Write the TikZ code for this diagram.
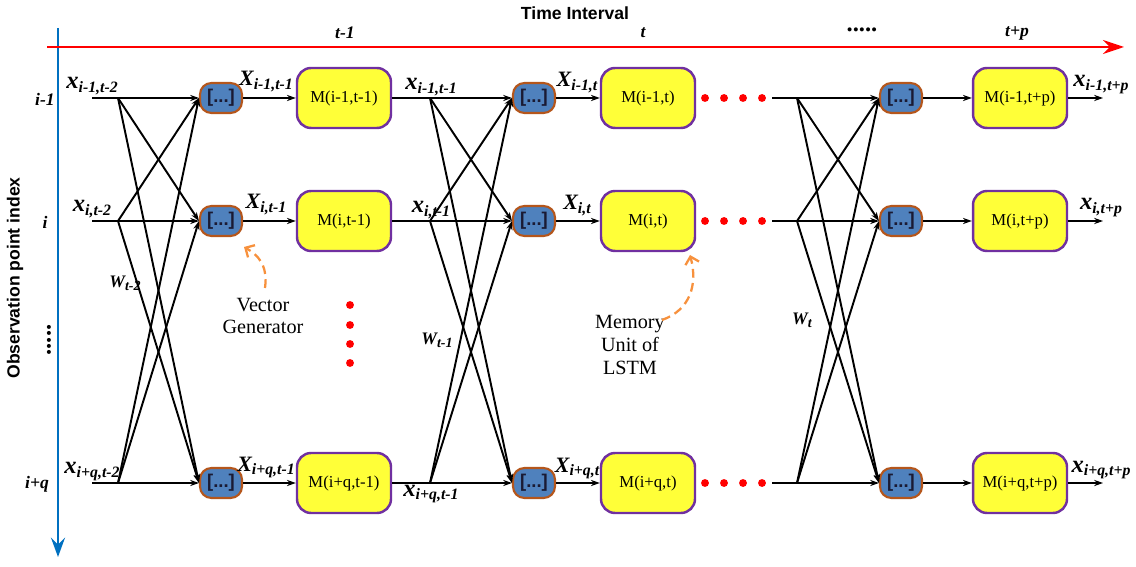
\documentclass[tikz,border=0pt]{standalone}
\usepackage{fontspec}
\setmainfont{Liberation Serif}
\setsansfont{Liberation Sans}
\usetikzlibrary{arrows.meta}

\definecolor{genfill}{HTML}{4F81BD}
\definecolor{genborder}{HTML}{B5561B}
\definecolor{memfill}{HTML}{FFFF38}
\definecolor{memborder}{HTML}{7030A0}
\definecolor{axisblue}{HTML}{0070C0}
\definecolor{notecol}{HTML}{F7913D}
\definecolor{gentext}{HTML}{1A1A33}

\providecommand{\xin}[2]{{\bfseries\itshape\fontsize{14}{14}\selectfont #1\raisebox{-0.3ex}{\fontsize{9}{9}\selectfont #2}}}
\providecommand{\Xin}[2]{{\bfseries\itshape\fontsize{12.5}{12.5}\selectfont #1\raisebox{-0.3ex}{\fontsize{9}{9}\selectfont #2}}}
\providecommand{\win}[2]{{\bfseries\itshape\fontsize{10}{10}\selectfont #1\raisebox{-0.4ex}{\fontsize{8}{8}\selectfont #2}}}

\tikzset{
  gen/.style={draw=genborder, fill=genfill, line width=1.2pt, rounded corners=6.5pt,
    minimum width=0.84cm, minimum height=0.6cm, inner sep=0pt, text=gentext,
    font=\sffamily\bfseries\fontsize{10.5}{10.5}\selectfont},
  mem/.style={draw=memborder, fill=memfill, line width=1.4pt, rounded corners=8pt,
    minimum width=1.88cm, minimum height=1.2cm, inner sep=0pt,
    font=\fontsize{9.5}{10}\selectfont},
  link/.style={-{Stealth[length=5pt,width=3.5pt]}, line width=1.1pt},
  rdot/.style={circle, fill=red, inner sep=0pt, minimum size=4.5pt},
  idx/.style={font=\bfseries\itshape\fontsize{10}{10}\selectfont},
  dots/.style={font=\bfseries\fontsize{14}{14}\selectfont},
  lbl/.style={anchor=base, inner sep=0pt},
  note/.style={font=\fontsize{11.5}{13}\selectfont, align=center},
  hint/.style={notecol, line width=1.3pt, dash pattern=on 5pt off 3pt,
    -{Straight Barb[length=4pt,width=8pt]}},
}

\begin{document}
\begin{tikzpicture}[x=0.02cm, y=-0.02cm]
\useasboundingbox (0,0) rectangle (1136,567);

% Axes
\coordinate (vtop) at (58,28);
\coordinate (vbot) at (58,557);
\coordinate (hl) at (47,47);
\coordinate (hr) at (1124,47);
\draw[axisblue, line width=1.3pt, -{Stealth[length=11pt,width=8pt,inset=4pt]}] (vtop) -- (vbot);
\draw[red, line width=1.3pt, -{Stealth[length=12pt,width=8pt,inset=4pt]}] (hl) -- (hr);
\node[font=\sffamily\bfseries\fontsize{10}{10}\selectfont] (title) at (575,13) {Time Interval};
\node[font=\sffamily\bfseries\fontsize{10}{10}\selectfont, rotate=90] (obs) at (15,278) {Observation point index};

% Axis ticks
\node[idx] (t1) at (345,33) {t-1};
\node[idx] (t2) at (643,33) {t};
\node[dots] (t3) at (862,30) {.....};
\node[idx] (t4) at (1017,33) {t+p};
\node[idx] (r1) at (45,99) {i-1};
\node[idx] (r2) at (45,222) {i};
\node[dots, rotate=90] (r3) at (49,340) {.....};
\node[idx] (r4) at (37,484) {i+q};

% Define nodes
\foreach \r/\y in {1/98, 2/221, 3/483} {
  \foreach \c/\gx/\mx/\px in {1/221/344/118, 2/534/648/430, 3/901/1020/797} {
    \node[gen] (g\c\r) at (\gx,\y) {[...]};
    \coordinate (p\c\r) at (\px,\y);
  }
  \node[mem] (m1\r) at (344,\y) {};
  \node[mem] (m2\r) at (648,\y) {};
  \node[mem] (m3\r) at (1020,\y) {};
  \coordinate (s1\r) at (92,\y);
  \coordinate (s3\r) at (772,\y);
  \coordinate (o\r) at (1103,\y);
  \foreach \d in {705,724,743,762}
    \node[rdot] at (\d,\y) {};
}
\node[font=\fontsize{9.5}{10}\selectfont] at (m11) {M(i-1,t-1)};
\node[font=\fontsize{9.5}{10}\selectfont] at (m12) {M(i,t-1)};
\node[font=\fontsize{9.5}{10}\selectfont] at (m13) {M(i+q,t-1)};
\node[font=\fontsize{9.5}{10}\selectfont] at (m21) {M(i-1,t)};
\node[font=\fontsize{9.5}{10}\selectfont] at (m22) {M(i,t)};
\node[font=\fontsize{9.5}{10}\selectfont] at (m23) {M(i+q,t)};
\node[font=\fontsize{9.5}{10}\selectfont] at (m31) {M(i-1,t+p)};
\node[font=\fontsize{9.5}{10}\selectfont] at (m32) {M(i,t+p)};
\node[font=\fontsize{9.5}{10}\selectfont] at (m33) {M(i+q,t+p)};

% Connect the nodes
\foreach \r in {1,2,3} {
  \draw[link] (s1\r) -- (g1\r);
  \draw[link] (m1\r) -- (g2\r);
  \draw[link] (s3\r) -- (g3\r);
  \foreach \c in {1,2,3}
    \draw[link] (g\c\r) -- (m\c\r);
  \draw[link] (m3\r) -- (o\r);
}
\foreach \c in {1,2,3}
  \foreach \r in {1,2,3}
    \foreach \k in {1,2,3} {
      \ifnum\r=\k\else
        \draw[link] (p\c\r) -- (g\c\k.west);
      \fi
    }

% Vector labels
\foreach \r/\y/\s/\d in {1/98/i-1/-8, 2/221/i/-8, 3/483/i+q/13} {
  \node[lbl] (xa\r) at (92,\y-9) {\xin{x}{\s,t-2}};
  \node[lbl] (Xa\r) at (266,\y-12) {\Xin{X}{\s,t-1}};
  \node[lbl] (xb\r) at (431,\y+\d) {\xin{x}{\s,t-1}};
  \node[lbl] (Xb\r) at (577,\y-11) {\Xin{X}{\s,t}};
  \node[lbl] (xc\r) at (1101,\y-11) {\xin{x}{\s,t+p}};
}
\node (w1) at (125,283) {\win{W}{t-2}};
\node (w2) at (437,340) {\win{W}{t-1}};
\node (w3) at (802,320) {\win{W}{t}};

% Vertical dots
\foreach \d in {305,325,344,363}
  \node[rdot] at (350,\d) {};

% Notes
\node[note] (vg) at (263,316) {Vector\\Generator};
\node[note] (mu) at (630,345) {Memory\\Unit of\\LSTM};
\coordinate (vga) at (265,288);
\coordinate (vgb) at (244,247);
\coordinate (mua) at (662,320);
\coordinate (mub) at (690,255);
\draw[hint] (vga) .. controls (268,265) and (258,255) .. (vgb);
\draw[hint] (mua) .. controls (690,310) and (698,285) .. (mub);

\end{tikzpicture}
\end{document}
